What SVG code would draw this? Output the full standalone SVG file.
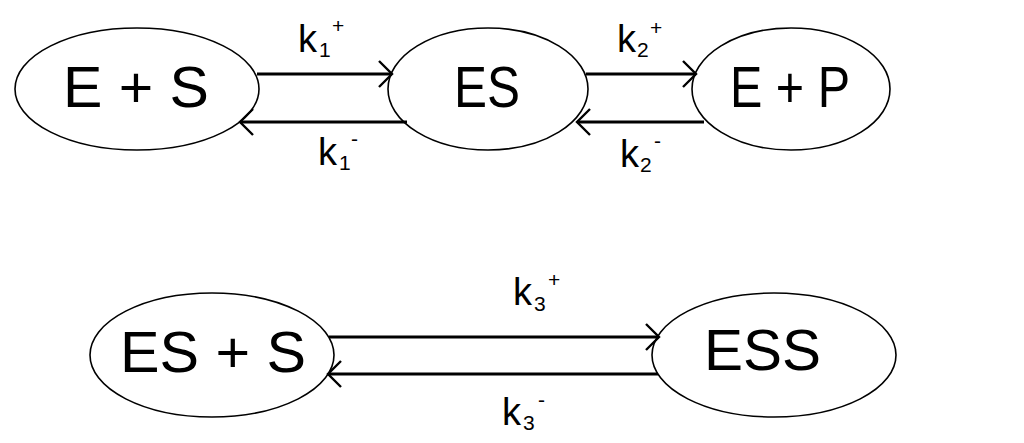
<svg xmlns="http://www.w3.org/2000/svg" width="1024" height="443" viewBox="0 0 1024 443">
<style>
.node ellipse{fill:#fff;stroke:#000;stroke-width:1.6}
.lbl{font-family:"Liberation Sans",Arial,sans-serif;font-size:58px;fill:#000}
.k{font-family:"Liberation Sans",Arial,sans-serif;font-size:38px;fill:#000}
.s{font-size:21px}
.conn line{stroke:#000;stroke-width:3;fill:none}
</style>
<defs>
<marker id="arr" markerUnits="userSpaceOnUse" viewBox="-16 -16 18 32" markerWidth="18" markerHeight="32" refX="0" refY="0" orient="auto" overflow="visible">
<path d="M-13,-13 L0,0 L-13,13" fill="none" stroke="#000" stroke-width="2.4"/>
</marker>
</defs>
<rect width="1024" height="443" fill="#fff"/>
<g id="node-ES_plus_S" class="node">
<ellipse cx="137" cy="89" rx="122" ry="61"/>
<text class="lbl" x="63" y="107" textLength="146" lengthAdjust="spacingAndGlyphs">E + S</text>
</g>
<g id="node-ES" class="node">
<ellipse cx="488" cy="89" rx="100" ry="61"/>
<text class="lbl" x="454" y="107" textLength="66" lengthAdjust="spacingAndGlyphs">ES</text>
</g>
<g id="node-E_plus_P" class="node">
<ellipse cx="791" cy="89" rx="99" ry="61"/>
<text class="lbl" x="730" y="107" textLength="120" lengthAdjust="spacingAndGlyphs">E + P</text>
</g>
<g id="node-ESplusS" class="node">
<ellipse cx="212" cy="355" rx="122" ry="62"/>
<text class="lbl" x="120" y="372" textLength="186" lengthAdjust="spacingAndGlyphs">ES + S</text>
</g>
<g id="node-ESS" class="node">
<ellipse cx="774" cy="355" rx="122" ry="62"/>
<text class="lbl" x="704" y="370" textLength="117" lengthAdjust="spacingAndGlyphs">ESS</text>
</g>
<g id="connectors" class="conn">
<line x1="257" y1="74" x2="392" y2="74" marker-end="url(#arr)"/>
<line x1="407" y1="122" x2="240" y2="122" marker-end="url(#arr)"/>
<line x1="586" y1="74" x2="696" y2="74" marker-end="url(#arr)"/>
<line x1="704" y1="122" x2="577" y2="122" marker-end="url(#arr)"/>
<line x1="329" y1="337" x2="659" y2="337" marker-end="url(#arr)"/>
<line x1="658" y1="374" x2="328" y2="374" marker-end="url(#arr)"/>
</g>
<g id="labels">
<text class="k" x="298" y="52">k<tspan class="s" x="319" y="57">1</tspan><tspan class="s" x="332" y="33">+</tspan></text>
<text class="k" x="318" y="165">k<tspan class="s" x="339" y="170">1</tspan><tspan class="s" x="351" y="146">-</tspan></text>
<text class="k" x="617" y="52">k<tspan class="s" x="637" y="57">2</tspan><tspan class="s" x="650" y="35">+</tspan></text>
<text class="k" x="620" y="167">k<tspan class="s" x="640" y="172">2</tspan><tspan class="s" x="654" y="148">-</tspan></text>
<text class="k" x="513" y="305">k<tspan class="s" x="534" y="311">3</tspan><tspan class="s" x="548" y="287">+</tspan></text>
<text class="k" x="502" y="425">k<tspan class="s" x="523" y="430">3</tspan><tspan class="s" x="538" y="407">-</tspan></text>
</g>
</svg>
